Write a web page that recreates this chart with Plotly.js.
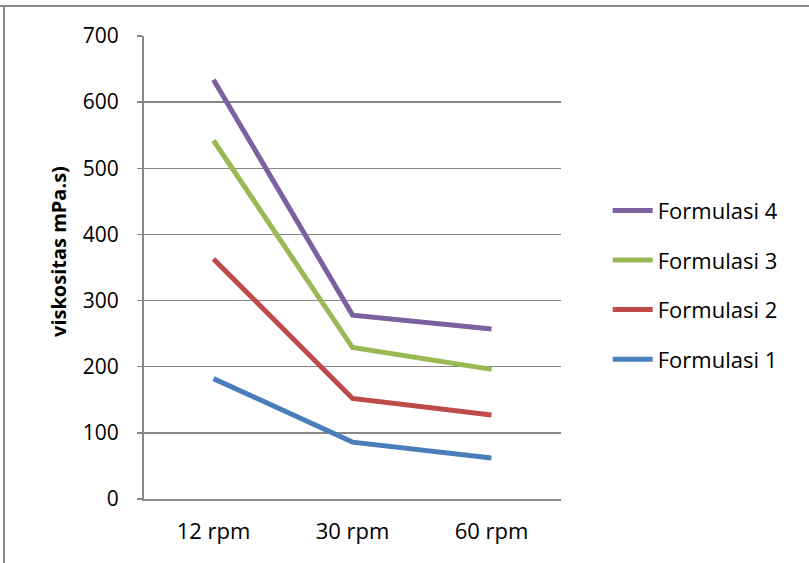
<!DOCTYPE html>
<html>
<head>
<meta charset="utf-8">
<script src="https://cdn.plot.ly/plotly-3.0.1.min.js"></script>
<style>
html,body{margin:0;padding:0;background:#fff;}
#chart{width:809px;height:563px;}
</style>
</head>
<body>
<div id="chart"></div>
<script>
const categories = ["12 rpm", "30 rpm", "60 rpm"];
const formulasi1 = [182, 86, 62];
const formulasi2 = [363, 152, 127];
const formulasi3 = [542, 229, 196];
const formulasi4 = [634, 278, 257];
const seriesNames = ["Formulasi 1", "Formulasi 2", "Formulasi 3", "Formulasi 4"];
const seriesColors = ["#4A7EBB", "#BE4B48", "#98B954", "#7D60A0"];
const yTicks = [0, 100, 200, 300, 400, 500, 600, 700];
const yTitle = "viskositas mPa.s)";

const allSeries = [formulasi1, formulasi2, formulasi3, formulasi4];
const traces = allSeries.map((vals, i) => ({
  type: "scatter",
  mode: "lines",
  x: categories,
  y: vals,
  name: seriesNames[i],
  legendgroup: "g" + i,
  legendrank: 10 - i,
  line: {color: seriesColors[i], width: 5},
  hoverinfo: "x+y+name"
}));

const fontFam = "'Open Sans', Lato, 'Liberation Sans', sans-serif";
const layout = {
  width: 809, height: 563,
  margin: {l: 144, r: 248, t: 36, b: 64},
  paper_bgcolor: "#fff", plot_bgcolor: "#fff",
  font: {family: fontFam, size: 20, color: "#000"},
  showlegend: true,
  legend: {
    x: 1.112, xanchor: "left", y: 0.462, yanchor: "middle",
    traceorder: "grouped", tracegroupgap: 18,
    font: {family: fontFam, size: 22, color: "#000"},
    itemwidth: 40
  },
  xaxis: {
    type: "category",
    range: [-0.5, 2.5],
    showgrid: false,
    showline: true, linecolor: "#878787", linewidth: 2,
    ticks: "", tickfont: {family: fontFam, size: 22},
    ticklabelstandoff: 12,
    fixedrange: true
  },
  yaxis: {
    range: [0, 700],
    tickvals: yTicks,
    ticktext: yTicks.map(String),
    showgrid: true, gridcolor: "#878787", gridwidth: 1.5,
    showline: true, linecolor: "#878787", linewidth: 2,
    ticks: "outside", ticklen: 5, tickcolor: "#878787", tickwidth: 1.5,
    ticklabelstandoff: 14,
    zeroline: false,
    tickfont: {family: fontFam, size: 21},
    fixedrange: true
  },
  annotations: [
    {text: "<b>" + yTitle + "</b>", textangle: -90, xref: "paper", yref: "paper",
     x: (58 - 144) / 417, y: (499 - 252) / 463, xanchor: "center", yanchor: "middle",
     showarrow: false, font: {family: fontFam, size: 20, color: "#000"}}
  ],
  shapes: [
    {type: "line", xref: "paper", yref: "paper", x0: -144/417, x1: 1 + 248/417, y0: 1 + 30/463, y1: 1 + 30/463, line: {color: "#8a8a8a", width: 2}},
    {type: "line", xref: "paper", yref: "paper", x0: -140/417, x1: -140/417, y0: 1 + 30/463, y1: -64/463, line: {color: "#8a8a8a", width: 2}}
  ]
};

Plotly.newPlot("chart", traces, layout, {displayModeBar: false, staticPlot: true});
</script>
</body>
</html>
